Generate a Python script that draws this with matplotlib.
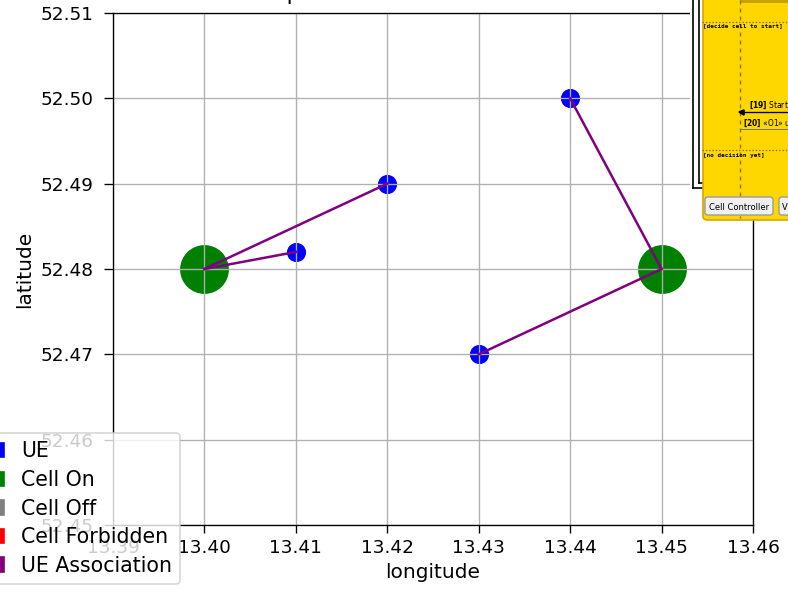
import matplotlib
matplotlib.use("Agg")
import matplotlib.pyplot as plt
from matplotlib.patches import Patch, Rectangle, FancyBboxPatch
from matplotlib.lines import Line2D
from matplotlib.ticker import FormatStrFormatter

# UE positions (longitude, latitude)
ue_lon = [13.41, 13.42, 13.44, 13.43]
ue_lat = [52.482, 52.49, 52.50, 52.47]

# cells (all on)
cell_lon = [13.40, 13.45]
cell_lat = [52.48, 52.48]

# which cell each UE is attached to (index into cell lists)
ue_cell = [0, 0, 1, 1]

x_ticks = [13.39, 13.40, 13.41, 13.42, 13.43, 13.44, 13.45, 13.46]
y_ticks = [52.45, 52.46, 52.47, 52.48, 52.49, 52.50, 52.51]

legend_labels = ["UE", "Cell On", "Cell Off", "Cell Forbidden", "UE Association"]
legend_colors = ["blue", "green", "gray", "red", "purple"]

W, H = 788, 590
DPI = 120
fig = plt.figure(figsize=(W / DPI, H / DPI), dpi=DPI)
ax = fig.add_axes([113 / W, 1 - 525 / H, 640 / W, 512 / H])


def fpos(x, y):
    # pixel (from top-left) -> figure fraction
    return x / W, 1 - y / H


# associations
for i in range(len(ue_lon)):
    c = ue_cell[i]
    ax.plot([cell_lon[c], ue_lon[i]], [cell_lat[c], ue_lat[i]], color="purple", lw=1.5)

ax.scatter(cell_lon, cell_lat, s=800, color="green")
ax.scatter(ue_lon, ue_lat, s=110, color="blue")

ax.set_xlim(13.39, 13.46)
ax.set_ylim(52.45, 52.51)
ax.set_xticks(x_ticks)
ax.set_yticks(y_ticks)
ax.xaxis.set_major_formatter(FormatStrFormatter("%.2f"))
ax.yaxis.set_major_formatter(FormatStrFormatter("%.2f"))
ax.tick_params(axis="both", labelsize=11.1)
ax.tick_params(axis="y", length=5.2, pad=6.5)
ax.tick_params(axis="x", length=4.8, pad=3.5)
ax.set_xlabel("longitude", fontsize=12.1)
ax.set_ylabel("latitude", fontsize=12.1)
ax.set_title("Map of Cells and UEs at Time 10", fontsize=13.3, pad=7.8)
ax.grid(True)

handles = [Patch(color=c) for c in legend_colors]
fig.legend(handles, legend_labels, loc="lower right", fontsize=12.3, labelspacing=0.42,
           bbox_to_anchor=(180 / W, 1 - 584 / H), bbox_transform=fig.transFigure,
           borderaxespad=0)

# overlapping yellow panel in the top-right corner
tf = fig.transFigure
fig.add_artist(Rectangle(fpos(690, 190), 98 / W, 190 / H, transform=tf,
                         facecolor="white", edgecolor="none", zorder=2))
fig.add_artist(Line2D([693 / W] * 2, [1, 1 - 188 / H], transform=tf, color="black", lw=1, zorder=3))
fig.add_artist(Line2D([699 / W] * 2, [1, 1 - 183 / H], transform=tf, color="black", lw=1, zorder=3))
fig.add_artist(Line2D([693 / W, 1], [1 - 188 / H] * 2, transform=tf, color="black", lw=1, zorder=3))
fig.add_artist(Line2D([699 / W, 1], [1 - 183 / H] * 2, transform=tf, color="black", lw=1, zorder=3))
fig.add_artist(FancyBboxPatch(fpos(703, 220), 100 / W, 225 / H, transform=tf,
                              boxstyle="round,pad=0,rounding_size=0.006",
                              facecolor="#ffd700", edgecolor="#d4a800", lw=1, zorder=4))
fig.add_artist(Rectangle(fpos(740, 3), 48 / W, 3 / H, transform=tf,
                         facecolor="#c8a400", edgecolor="none", zorder=5))
fig.add_artist(Line2D([740 / W] * 2, [1, 1 - 218 / H], transform=tf, color="#8a7000",
                      lw=0.8, ls=(0, (3, 3)), zorder=5))
for yy in [22, 150]:
    fig.add_artist(Line2D([702 / W, 1], [1 - yy / H] * 2, transform=tf, color="#8a7000",
                          lw=0.8, ls=(0, (1, 1.5)), zorder=5))
fig.text(*fpos(703, 26), "[decide cell to start]", transform=tf, fontsize=3.6,
         family="DejaVu Sans Mono", weight="bold", va="center", zorder=6)
fig.text(*fpos(703, 155), "[no decision yet]", transform=tf, fontsize=3.6,
         family="DejaVu Sans Mono", weight="bold", va="center", zorder=6)
fig.text(*fpos(749, 105), r"$\mathbf{[19]}$ Start", transform=tf, fontsize=4.5,
         va="center", zorder=6)
fig.add_artist(Line2D([741 / W, 1], [1 - 112 / H] * 2, transform=tf, color="black",
                      lw=0.8, marker="<", markevery=[0], markersize=3, zorder=6))
fig.text(*fpos(743, 123), r"$\mathbf{[20]}$ «O1» u", transform=tf, fontsize=4.5,
         va="center", zorder=6)
fig.add_artist(Line2D([741 / W, 1], [1 - 129 / H] * 2, transform=tf, color="#777777",
                      lw=0.6, zorder=6))
fig.add_artist(FancyBboxPatch(fpos(705, 215), 68 / W, 18 / H, transform=tf,
                              boxstyle="round,pad=0,rounding_size=0.004",
                              facecolor="#f0f0f0", edgecolor="#999999", lw=0.8, zorder=6))
fig.text(*fpos(739, 207), "Cell Controller", transform=tf, fontsize=5,
         ha="center", va="center", zorder=7)
fig.add_artist(FancyBboxPatch(fpos(779, 215), 20 / W, 18 / H, transform=tf,
                              boxstyle="round,pad=0,rounding_size=0.004",
                              facecolor="#f0f0f0", edgecolor="#999999", lw=0.8, zorder=6))
fig.text(*fpos(782, 207), "V", transform=tf, fontsize=5, va="center", zorder=7)

fig.savefig("out.png", dpi=DPI)
